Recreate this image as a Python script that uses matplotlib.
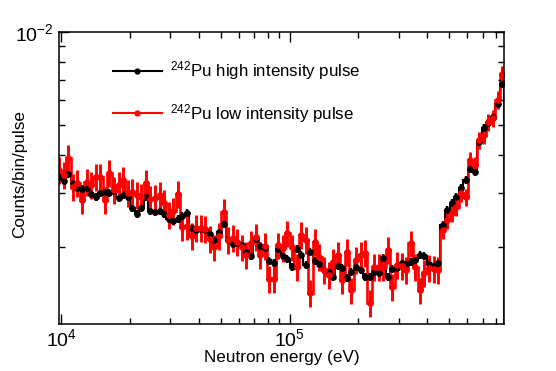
import numpy as np
import matplotlib
matplotlib.use("Agg")
import matplotlib.pyplot as plt
from matplotlib.lines import Line2D
from matplotlib.ticker import LogLocator, NullFormatter

plt.rcParams['font.family'] = ['Liberation Sans', 'DejaVu Sans']
plt.rcParams['mathtext.fontset'] = 'custom'
plt.rcParams['mathtext.rm'] = 'Liberation Sans'
plt.rcParams['mathtext.it'] = 'Liberation Sans:italic'

# histogram binning: 50 log bins per decade
log_lo, log_hi, n_bins = 3.98, 5.94, 98

# counts/bin/pulse, in units of 1e-3
high_intensity = [
    3.38, 3.28, 3.46, 3.23, 3.12, 3.09, 3.12, 2.98, 2.91, 3.00,
    3.02, 3.00, 3.05, 2.89, 2.96, 2.91, 2.68, 2.56, 2.68, 2.91,
    2.62, 2.60, 2.62, 2.56, 2.47, 2.43, 2.47, 2.53, 2.58, 2.31,
    2.28, 2.29, 2.28, 2.21, 2.11, 2.24, 2.38, 2.11, 2.05, 2.06,
    2.03, 1.93, 1.87, 2.13, 2.02, 1.99, 1.80, 1.78, 1.97, 1.87,
    1.83, 1.73, 1.97, 1.89, 1.75, 1.93, 1.80, 1.76, 1.69, 1.66,
    1.60, 1.74, 1.71, 1.59, 1.66, 1.73, 1.69, 1.60, 1.60, 1.66,
    1.65, 1.85, 1.60, 1.70, 1.71, 1.78, 1.76, 1.79, 1.82, 1.89,
    1.87, 1.76, 1.74, 1.78, 2.36, 2.64, 2.79, 2.91, 3.12, 3.31,
    3.59, 3.51, 4.40, 4.88, 5.07, 5.30, 5.84, 6.78,
]
low_intensity = [
    3.56, 3.43, 3.90, 3.14, 3.23, 2.85, 3.26, 3.19, 3.38, 3.38,
    2.85, 3.49, 3.07, 3.19, 3.31, 3.00, 3.02, 2.96, 2.91, 3.23,
    2.87, 2.89, 2.96, 2.79, 2.55, 2.62, 2.98, 2.33, 2.34, 2.18,
    2.31, 2.31, 2.29, 2.13, 2.00, 2.18, 2.60, 2.11, 2.14, 2.08,
    2.00, 1.89, 2.06, 2.16, 1.89, 2.02, 1.58, 1.58, 2.03, 1.99,
    2.22, 2.00, 1.73, 2.19, 2.11, 1.42, 2.08, 1.86, 1.69, 1.63,
    1.79, 1.89, 1.57, 1.93, 1.45, 1.82, 1.89, 1.92, 1.32, 1.73,
    1.73, 1.73, 1.96, 1.49, 1.75, 1.74, 1.69, 2.06, 1.73, 1.45,
    1.65, 1.71, 1.70, 1.69, 2.28, 2.45, 2.58, 2.70, 3.00, 2.91,
    3.84, 3.70, 4.46, 4.63, 5.10, 5.26, 6.02, 7.31,
]
# relative statistical uncertainties
high_rel_err = [0.03] * 98
low_rel_err = [0.10] * 84 + [0.065] * 14

labels = [r'$^{242}$Pu high intensity pulse', r'$^{242}$Pu low intensity pulse']
colors = ['black', 'red']
line_widths = [1.5, 1.9]

edges = np.logspace(log_lo, log_hi, n_bins + 1)
centers = np.sqrt(edges[:-1] * edges[1:])

fig = plt.figure(figsize=(5.56, 3.71), dpi=100)
ax = fig.add_axes([0.106, 0.1267, 0.8005, 0.787])

handles = []
for vals, rel, col, lw, lab in zip([high_intensity, low_intensity],
                                   [high_rel_err, low_rel_err], colors,
                                   line_widths, labels):
    y = np.array(vals) * 1e-3
    err = y * np.array(rel)
    ax.stairs(y, edges, color=col, lw=lw)
    ax.errorbar(centers, y, yerr=err, fmt='o', color=col, ms=3.8,
                elinewidth=lw + 0.2, capsize=0)
    handles.append(Line2D([], [], color=col, lw=1.5, marker='o', ms=3.5))

ax.set_xscale('log')
ax.set_yscale('log')
ax.set_xlim(9.75e3, 8.68e5)
ax.set_ylim(1.127e-3, 1e-2)

ax.xaxis.set_minor_locator(LogLocator(base=10, subs=np.arange(2, 10)))
ax.yaxis.set_minor_locator(LogLocator(base=10, subs=np.arange(2, 10)))
ax.xaxis.set_minor_formatter(NullFormatter())
ax.yaxis.set_minor_formatter(NullFormatter())
ax.tick_params(which='both', direction='in', top=True, right=True,
               labelsize=14, width=1)
ax.tick_params(which='major', length=7.5, pad=4)
ax.tick_params(axis='x', which='major', pad=3)
ax.tick_params(which='minor', length=4)
for s in ax.spines.values():
    s.set_linewidth(1.1)

ax.set_xlabel('Neutron energy (eV)', fontsize=12.3)
ax.set_ylabel('Counts/bin/pulse', fontsize=12.3)
ax.xaxis.set_label_coords(0.5, -0.088)
ax.yaxis.set_label_coords(-0.072, 0.515)

ax.legend(handles, labels, loc='upper left', bbox_to_anchor=(0.121, 0.907),
          frameon=False, fontsize=12.2, handlelength=2.9, handletextpad=0.45,
          labelspacing=1.17, borderpad=0, borderaxespad=0)

fig.savefig('out.png', dpi=100)
